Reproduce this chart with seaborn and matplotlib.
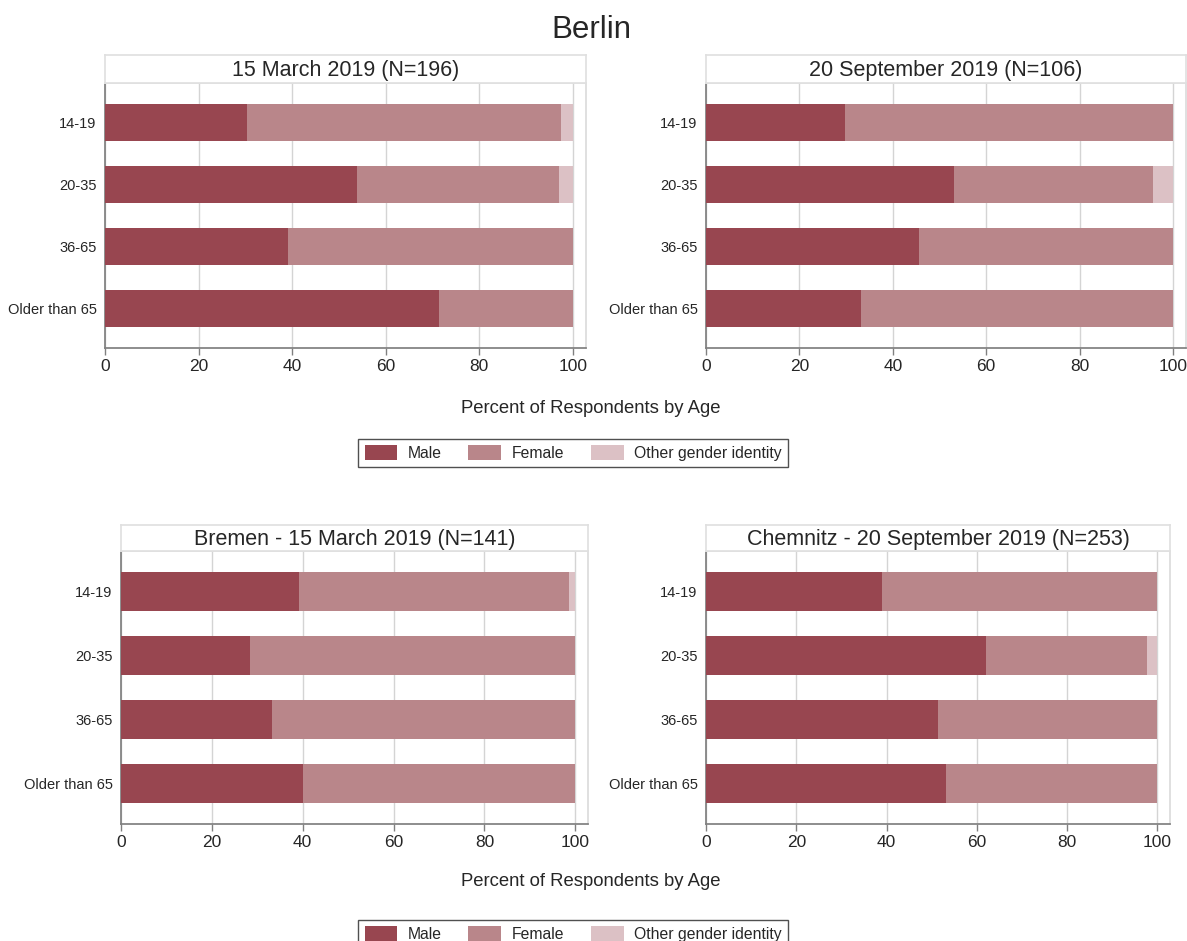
import pandas as pd
import seaborn as sns
import matplotlib.pyplot as plt
from matplotlib.patches import Patch

# Dados (percentuais)
ages = ["14-19", "20-35", "36-65", "Older than 65"]
genders = ["Male", "Female", "Other gender identity"]
colors = ["#984650", "#b9868a", "#dcc1c5"]

titles = ["15 March 2019 (N=196)", "20 September 2019 (N=106)",
          "Bremen - 15 March 2019 (N=141)", "Chemnitz - 20 September 2019 (N=253)"]

berlin_mar_male = [30.4, 53.8, 39.1, 71.4]
berlin_mar_female = [67.1, 43.3, 60.9, 28.6]
berlin_mar_other = [2.5, 2.9, 0.0, 0.0]

berlin_sep_male = [29.8, 53.1, 45.6, 33.3]
berlin_sep_female = [70.2, 42.7, 54.4, 66.7]
berlin_sep_other = [0.0, 4.2, 0.0, 0.0]

bremen_male = [39.2, 28.5, 33.3, 40.0]
bremen_female = [59.4, 71.5, 66.7, 60.0]
bremen_other = [1.4, 0.0, 0.0, 0.0]

chemnitz_male = [39.0, 62.1, 51.5, 53.1]
chemnitz_female = [61.0, 35.7, 48.5, 46.9]
chemnitz_other = [0.0, 2.2, 0.0, 0.0]

panels = [
    (berlin_mar_male, berlin_mar_female, berlin_mar_other),
    (berlin_sep_male, berlin_sep_female, berlin_sep_other),
    (bremen_male, bremen_female, bremen_other),
    (chemnitz_male, chemnitz_female, chemnitz_other),
]

sns.set_theme(style="white")
plt.rcParams["font.family"] = ["Liberation Sans", "DejaVu Sans"]

W, H = 1187, 941
fig = plt.figure(figsize=(W / 100, H / 100), dpi=100)


def rect(x0, y0, x1, y1):
    return [x0 / W, 1 - y1 / H, (x1 - x0) / W, (y1 - y0) / H]


# posições em pixels: (esquerda, topo do cabeçalho, topo do eixo, direita, base)
layout = [
    (105, 55, 83, 586, 348),
    (706, 55, 83, 1186, 348),
    (121, 525, 551, 588, 824),
    (706, 525, 551, 1170, 824),
]

for (male, female, other), title, (x0, yt, ya, x1, yb) in zip(panels, titles, layout):
    df = pd.DataFrame({"Age": ages, "Male": male, "Female": female, "Other": other})
    df["cum_female"] = df["Male"] + df["Female"]
    df["cum_other"] = df["cum_female"] + df["Other"]

    ax = fig.add_axes(rect(x0, ya, x1, yb))
    ax.grid(axis="x", color="#d4d4d4", linewidth=1)
    ax.set_axisbelow(True)
    sns.barplot(data=df, y="Age", x="cum_other", color=colors[2], width=0.6,
                orient="h", saturation=1, linewidth=0, ax=ax, zorder=2)
    sns.barplot(data=df, y="Age", x="cum_female", color=colors[1], width=0.6,
                orient="h", saturation=1, linewidth=0, ax=ax, zorder=3)
    sns.barplot(data=df, y="Age", x="Male", color=colors[0], width=0.6,
                orient="h", saturation=1, linewidth=0, ax=ax, zorder=4)

    ax.set_xlim(0, 102.8)
    ax.set_ylim(3.63, -0.63)
    ax.set_xticks([0, 20, 40, 60, 80, 100])
    ax.set_xlabel("")
    ax.set_ylabel("")
    ax.tick_params(axis="x", length=5, width=1, color="#808080", labelsize=12.5,
                   pad=3, bottom=True)
    ax.tick_params(axis="y", length=0, labelsize=10.5, pad=6)
    for s in ["top", "right"]:
        ax.spines[s].set_color("#dcdcdc")
    for s in ["left", "bottom"]:
        ax.spines[s].set_color("#808080")

    # cabeçalho com caixa
    hx = fig.add_axes(rect(x0, yt, x1, ya))
    hx.set_xticks([])
    hx.set_yticks([])
    for s in hx.spines.values():
        s.set_color("#e0e0e0")
    hx.text(0.5, 0.45, title, ha="center", va="center", fontsize=15.5,
            transform=hx.transAxes)

fig.text(591 / W, 1 - 30 / H, "Berlin", ha="center", va="center", fontsize=22.5)

handles = [Patch(facecolor=c, edgecolor="none", label=g) for c, g in zip(colors, genders)]
for ylab, yleg in [(408, 453), (882, 934)]:
    fig.text(591 / W, 1 - ylab / H, "Percent of Respondents by Age",
             ha="center", va="center", fontsize=13.3)
    leg = fig.legend(handles=handles, ncol=3, loc="center",
                     bbox_to_anchor=(573 / W, 1 - yleg / H), fontsize=11.3,
                     frameon=True, fancybox=False, framealpha=1,
                     edgecolor="#505050", handlelength=2.1, handleheight=1.1,
                     handletextpad=0.65, columnspacing=1.7, borderpad=0.4)
    leg.get_frame().set_linewidth(1)

fig.savefig("out.png", dpi=100)
